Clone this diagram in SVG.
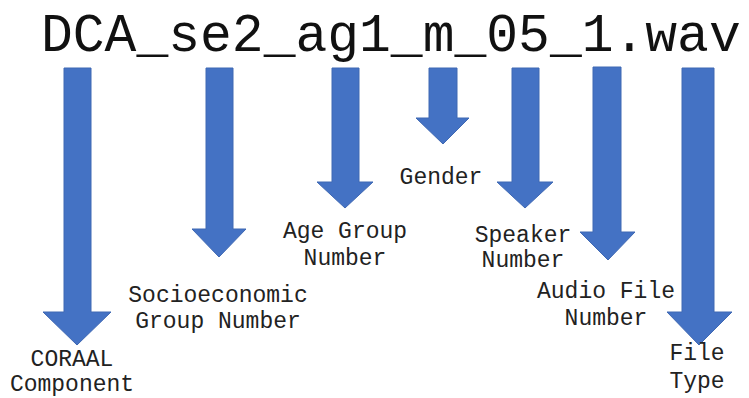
<svg xmlns="http://www.w3.org/2000/svg" width="749" height="398" viewBox="0 0 749 398">
  <style>
    .bg { fill: #ffffff; }
    .title { font-family: "Courier New", "Liberation Mono", monospace; font-size: 53px; fill: #111111; }
    .label { font-family: "Courier New", "Liberation Mono", monospace; font-size: 23px; fill: #222222; text-anchor: middle; }
    .arrow { fill: #4472c4; stroke: #3f68b3; stroke-width: 1; stroke-linejoin: miter; }
  </style>
  <rect class="bg" x="0" y="0" width="749" height="398"/>

  <g id="filename">
    <text class="title" x="41" y="51">DCA_se2_ag1_m_05_1.wav</text>
  </g>

  <!-- block arrows from each filename segment down to its description -->
  <g id="connectors">
    <polygon class="arrow" points="64,68 91,68 91,312 111,312 77,345 43,312 64,312"/>
    <polygon class="arrow" points="206,68 233,68 233,229 246,229 219,257 192,229 206,229"/>
    <polygon class="arrow" points="332,68 359,68 359,182 373,182 345,208 317,182 332,182"/>
    <polygon class="arrow" points="429,68 457,68 457,118 469,118 443,144 416,118 429,118"/>
    <polygon class="arrow" points="512,68 539,68 539,182 553,182 525,208 497,182 512,182"/>
    <polygon class="arrow" points="593,67 621,67 621,232 635,232 608,260 580,232 593,232"/>
    <polygon class="arrow" points="682,68 714,68 714,312 732,312 699,345 667,312 682,312"/>
  </g>

  <g id="coraal-component">
    <text class="label" x="72" y="366">CORAAL</text>
    <text class="label" x="72" y="391">Component</text>
  </g>
  <g id="socioeconomic-group">
    <text class="label" x="218" y="302">Socioeconomic</text>
    <text class="label" x="218" y="328">Group Number</text>
  </g>
  <g id="age-group">
    <text class="label" x="345" y="238">Age Group</text>
    <text class="label" x="345" y="265">Number</text>
  </g>
  <g id="gender">
    <text class="label" x="441" y="184">Gender</text>
  </g>
  <g id="speaker-number">
    <text class="label" x="523" y="242">Speaker</text>
    <text class="label" x="523" y="267">Number</text>
  </g>
  <g id="audio-file-number">
    <text class="label" x="606" y="298">Audio File</text>
    <text class="label" x="606" y="325">Number</text>
  </g>
  <g id="file-type">
    <text class="label" x="697" y="360">File</text>
    <text class="label" x="697" y="388">Type</text>
  </g>
</svg>
